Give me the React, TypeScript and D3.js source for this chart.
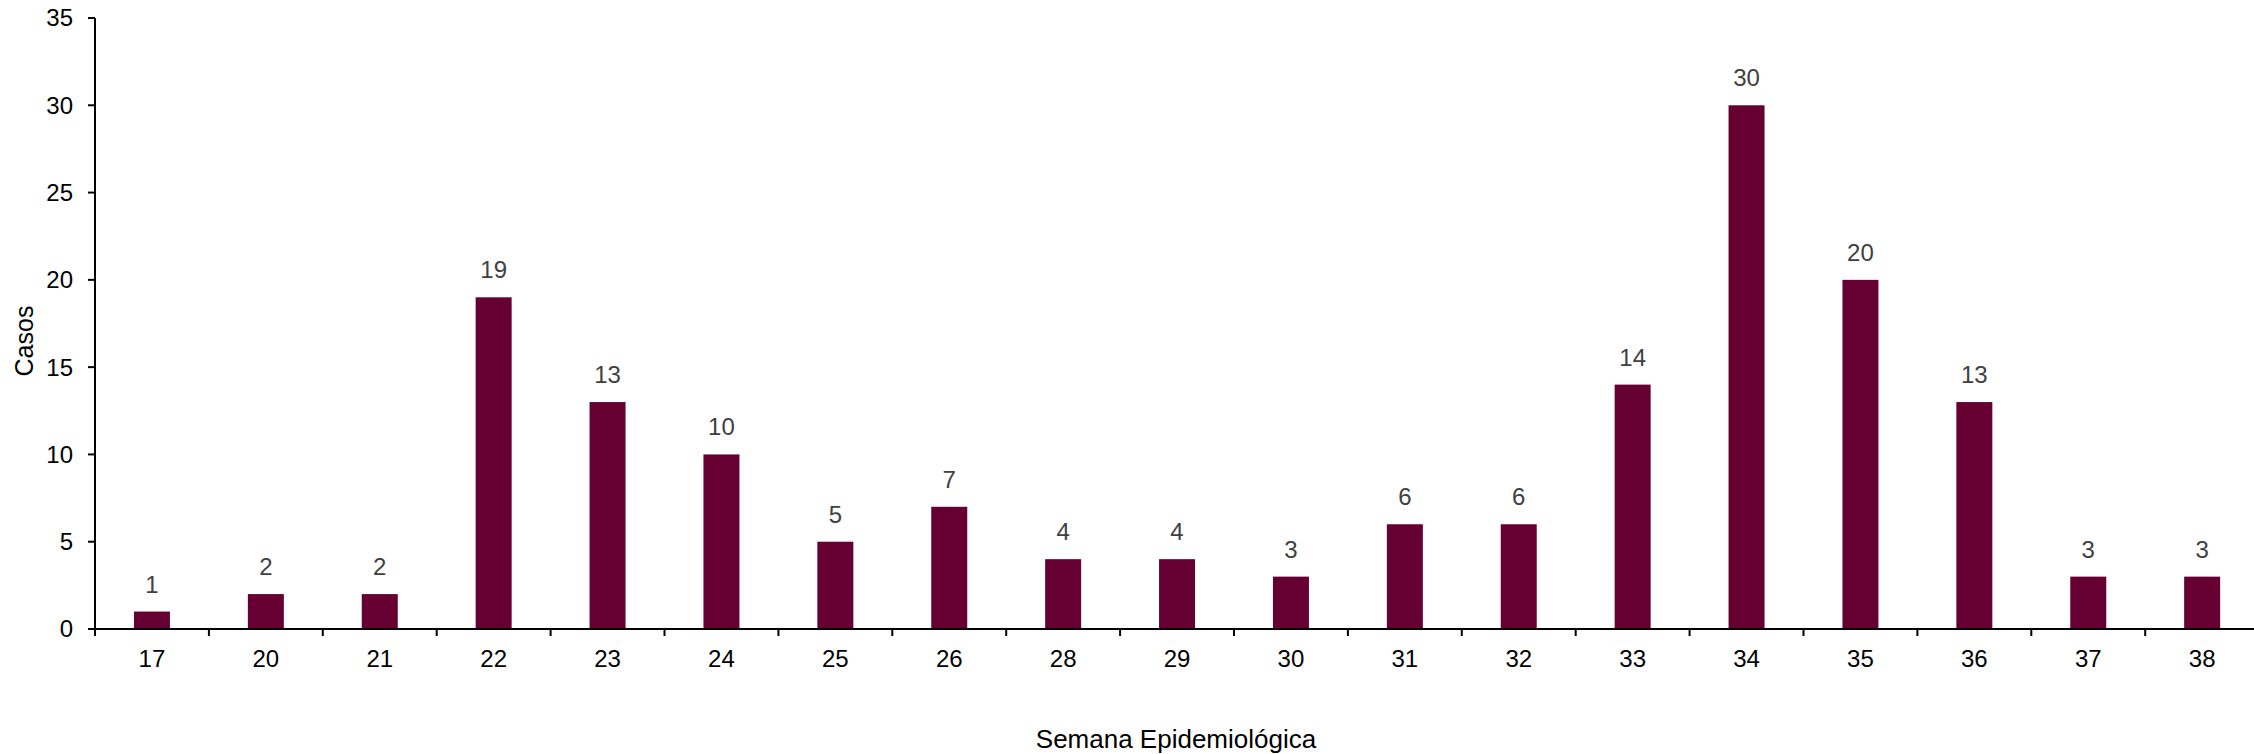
import React, { useEffect, useRef } from "react";
import * as d3 from "d3";

// semanas epidemiológicas y casos
const weeks = ["17", "20", "21", "22", "23", "24", "25", "26", "28", "29", "30", "31", "32", "33", "34", "35", "36", "37", "38"];
const cases = [1, 2, 2, 19, 13, 10, 5, 7, 4, 4, 3, 6, 6, 14, 30, 20, 13, 3, 3];
const yTicks = [0, 5, 10, 15, 20, 25, 30, 35];

const W = 2254;
const H = 754;
const FONT = "'Liberation Sans', Arial, sans-serif";

const App: React.FC = () => {
  const svgRef = useRef<SVGSVGElement | null>(null);

  useEffect(() => {
    if (!svgRef.current) return;
    const svg = d3.select(svgRef.current);
    svg.selectAll("*").remove();

    const left = 95;
    const step = 113.9;
    const top = 18;
    const bottom = 629;

    const x = d3
      .scaleBand<string>()
      .domain(weeks)
      .range([left, left + step * weeks.length])
      .paddingInner(0.684)
      .paddingOuter(0.342);

    const y = d3.scaleLinear().domain([0, 35]).range([bottom, top]);

    const data = weeks.map((w, i) => ({ week: w, value: cases[i] }));

    // bars
    svg
      .append("g")
      .selectAll("rect")
      .data(data)
      .join("rect")
      .attr("x", (d) => x(d.week)!)
      .attr("y", (d) => y(d.value))
      .attr("width", x.bandwidth())
      .attr("height", (d) => y(0) - y(d.value))
      .attr("fill", "#660033");

    // value labels
    svg
      .append("g")
      .selectAll("text")
      .data(data)
      .join("text")
      .attr("x", (d) => x(d.week)! + x.bandwidth() / 2)
      .attr("y", (d) => y(d.value) - 19)
      .attr("text-anchor", "middle")
      .attr("fill", "#404040")
      .style("font-family", FONT)
      .style("font-size", "24px")
      .text((d) => d.value);

    // y axis
    const yAxis = svg.append("g");
    yAxis
      .append("line")
      .attr("x1", left)
      .attr("x2", left)
      .attr("y1", y(35))
      .attr("y2", y(0) + 7)
      .attr("stroke", "#000")
      .attr("stroke-width", 2);
    yAxis
      .selectAll("line.tick")
      .data(yTicks)
      .join("line")
      .attr("class", "tick")
      .attr("x1", left - 7)
      .attr("x2", left)
      .attr("y1", (d) => y(d))
      .attr("y2", (d) => y(d))
      .attr("stroke", "#000")
      .attr("stroke-width", 2);
    yAxis
      .selectAll("text")
      .data(yTicks)
      .join("text")
      .attr("x", 73)
      .attr("y", (d) => y(d))
      .attr("dy", "0.35em")
      .attr("text-anchor", "end")
      .attr("fill", "#000")
      .style("font-family", FONT)
      .style("font-size", "24px")
      .text((d) => d);

    // x axis
    const xAxis = svg.append("g");
    xAxis
      .append("line")
      .attr("x1", left)
      .attr("x2", left + step * weeks.length)
      .attr("y1", y(0))
      .attr("y2", y(0))
      .attr("stroke", "#000")
      .attr("stroke-width", 2);
    const bounds = d3.range(weeks.length + 1).map((i) => left + step * i);
    xAxis
      .selectAll("line.tick")
      .data(bounds)
      .join("line")
      .attr("class", "tick")
      .attr("x1", (d) => d)
      .attr("x2", (d) => d)
      .attr("y1", y(0))
      .attr("y2", y(0) + 7)
      .attr("stroke", "#000")
      .attr("stroke-width", 2);
    xAxis
      .selectAll("text")
      .data(weeks)
      .join("text")
      .attr("x", (d) => x(d)! + x.bandwidth() / 2)
      .attr("y", 667)
      .attr("text-anchor", "middle")
      .attr("fill", "#000")
      .style("font-family", FONT)
      .style("font-size", "24px")
      .text((d) => d);

    // axis titles
    svg
      .append("text")
      .attr("x", 1176)
      .attr("y", 748)
      .attr("text-anchor", "middle")
      .attr("fill", "#000")
      .style("font-family", FONT)
      .style("font-size", "26px")
      .text("Semana Epidemiológica");

    svg
      .append("text")
      .attr("transform", `translate(33,341) rotate(-90)`)
      .attr("text-anchor", "middle")
      .attr("fill", "#000")
      .style("font-family", FONT)
      .style("font-size", "25px")
      .text("Casos");
  }, []);

  return (
    <svg
      ref={svgRef}
      width={W}
      height={H}
      style={{ position: "absolute", left: 0, top: 0, overflow: "hidden", background: "#fff" }}
    ></svg>
  );
};

export default App;
